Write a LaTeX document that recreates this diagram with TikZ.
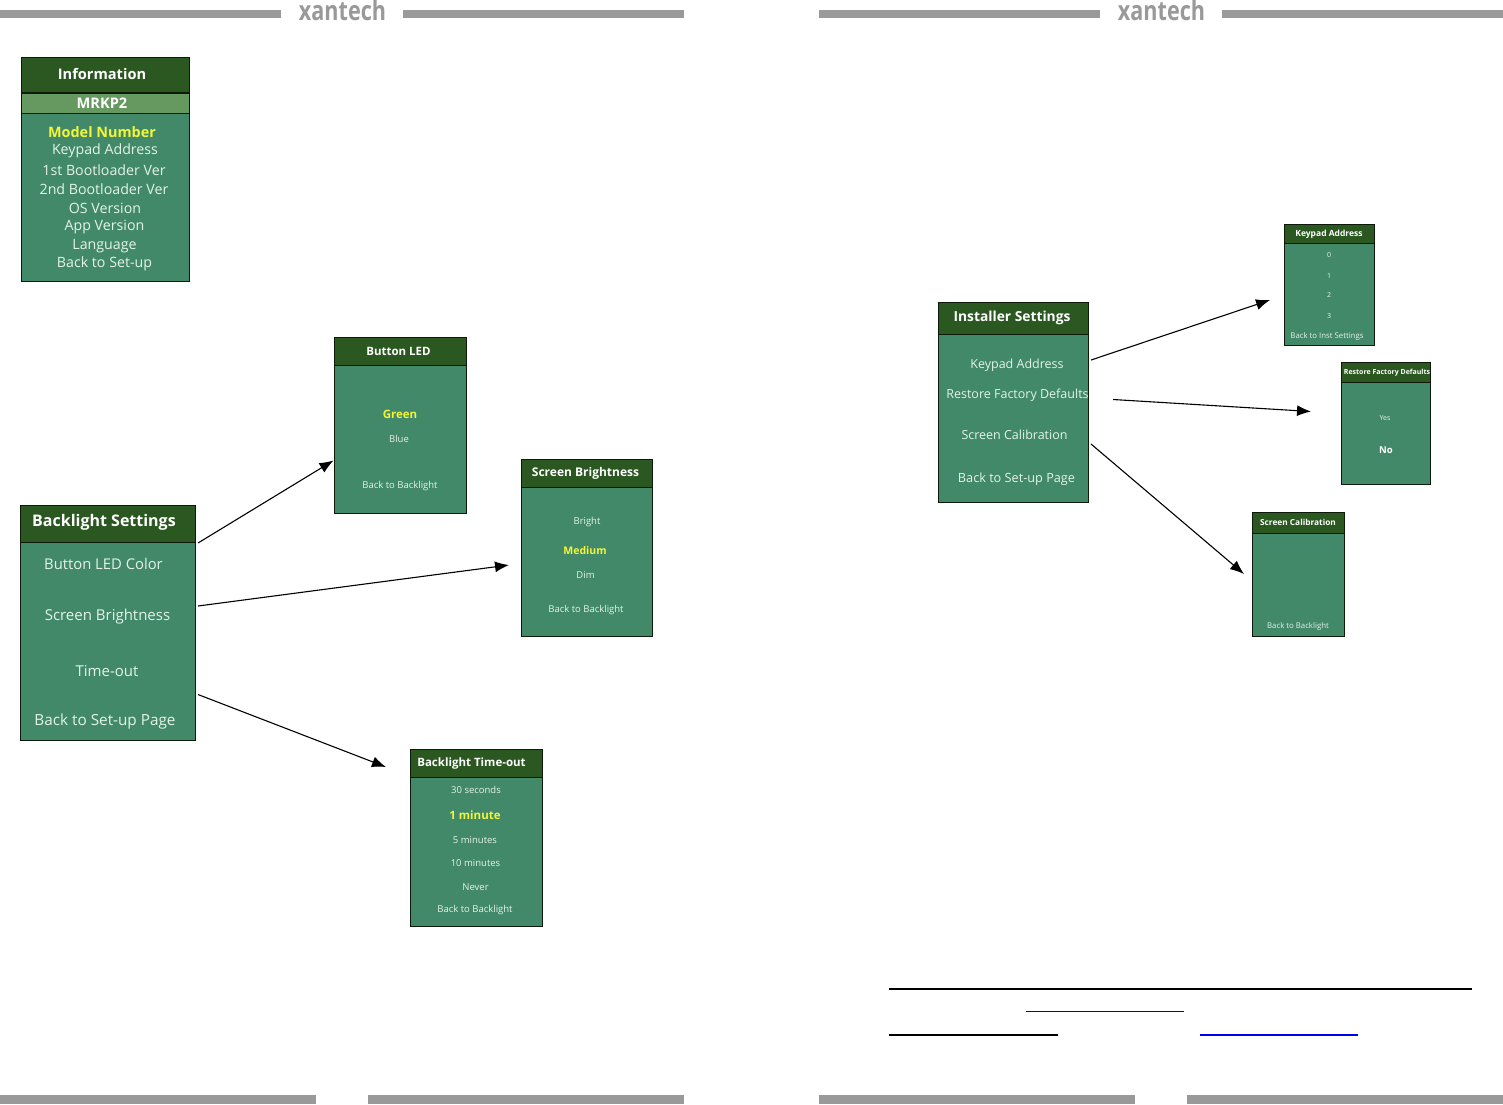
\documentclass[tikz,border=0pt]{standalone}
\usepackage{fontspec}
\setmainfont{Open Sans}
\usetikzlibrary{arrows.meta}
\definecolor{hdr}{HTML}{2B5720}
\definecolor{bdy}{HTML}{42896A}
\definecolor{band}{HTML}{66995F}
\definecolor{txt}{HTML}{E4F3E8}
\definecolor{sel}{HTML}{F2F53A}
\definecolor{bar}{HTML}{999999}
\definecolor{linkb}{HTML}{0000EE}
\newcommand{\panel}[6]{% name, x0,x1,y0,y1(header bottom),y2(bottom)
  \node[bodybox,minimum width=#3pt-#2pt-.6pt,minimum height=#6pt-#4pt-.6pt,anchor=north west] (#1) at (#2,#4) {};
  \node[hdrbox,minimum width=#3pt-#2pt-.6pt,minimum height=#5pt-#4pt,anchor=north west] (#1h) at (#2,#4) {};
}
\tikzset{
  x=1pt,y=-1pt,
  bodybox/.style={draw=black!70!hdr,fill=bdy,line width=.6pt,inner sep=0pt,outer sep=0pt},
  hdrbox/.style={draw=black!70!hdr,fill=hdr,line width=.6pt,inner sep=0pt,outer sep=0pt},
  bandbox/.style={draw=black!70!hdr,fill=band,line width=1pt,inner sep=0pt,outer sep=0pt},
  item/.style={text=txt,inner sep=0pt,yshift=-.8pt,font=\fontsize{#1}{#1}\selectfont},
  item/.default=15,
  pick/.style={text=sel,inner sep=0pt,yshift=-.8pt,font=\fontsize{#1}{#1}\selectfont\bfseries},
  pick/.default=15,
  title/.style={text=white,inner sep=0pt,yshift=-.8pt,font=\fontsize{#1}{#1}\selectfont\bfseries},
  title/.default=15,
  logo/.style={text=bar,inner sep=0pt,font=\fontsize{27}{27}\selectfont\bfseries},
  conn/.style={draw=black,line width=1.1pt,-{Latex[length=14pt,width=11pt]}},
}
\begin{document}
\begin{tikzpicture}
\useasboundingbox (0,0) rectangle (1503,1104);
\fill[white] (0,0) rectangle (1503,1104);
% bars
\foreach \a/\b in {0/281,403/684,819/1100,1222/1503}{\fill[bar] (\a,9.5) rectangle (\b,18);}
\foreach \a/\b in {0/316,368/684,819/1135,1187/1503}{\fill[bar] (\a,1095) rectangle (\b,1104);}
\node[logo,xscale=.8] (logoa) at (342.5,10.5) {xantech};
\node[logo,xscale=.8] (logob) at (1161.5,10.5) {xantech};
% Information
\panel{info}{21}{190}{57}{92}{282}
\node[bandbox,minimum width=168pt,minimum height=20pt,anchor=north west] (infob) at (21,93.5) {};
\node[title=14.6] (it) at (102,73.5) {Information};
\node[title=14.6] (ib) at (102,102.5) {MRKP2};
\node[pick=14.4] (i1) at (102,131.5) {Model Number};
\node[item=14.2] (i2) at (105,150.5) {Keypad Address};
\node[item=14.2] (i3) at (104,169.5) {1st Bootloader Ver};
\node[item=14.2] (i4) at (104,188.5) {2nd Bootloader Ver};
\node[item=14.2] (i5) at (105,207.5) {OS Version};
\node[item=14.2] (i6) at (104.5,226.5) {App Version};
\node[item=14.2] (i7) at (104.5,245) {Language};
\node[item=14.2] (i8) at (104.5,263.5) {Back to Set-up};
% Backlight Settings
\panel{bl}{20}{196}{505}{542}{741}
\node[title=16] (bt) at (104,522) {Backlight Settings};
\node[item=14.8] (b1) at (103.5,563) {Button LED Color};
\node[item=15] (b2) at (107.5,616) {Screen Brightness};
\node[item=15] (b3) at (107,670) {Time-out};
\node[item=15.3] (b4) at (105,720.5) {Back to Set-up Page};
% Button LED
\panel{led}{334}{467}{337}{365}{514}
\node[title=11.5] (lt) at (398.5,351) {Button LED};
\node[pick=11.5] (l1) at (400,414) {Green};
\node[item=9.5] (l2) at (399,438) {Blue};
\node[item=9.5] (l3) at (400,485) {Back to Backlight};
% Screen Brightness
\panel{sb}{521}{653}{459}{487}{637}
\node[title=12] (st) at (585.5,473) {Screen Brightness};
\node[item=9.5] (s1) at (587,521) {Bright};
\node[pick=10.5] (s2) at (585,549.5) {Medium};
\node[item=9.5] (s3) at (585.5,574) {Dim};
\node[item=9.5] (s4) at (586,609.5) {Back to Backlight};
% Backlight Time-out
\panel{to}{410}{543}{749}{777}{927}
\node[title=11.5] (tt) at (471.5,763) {Backlight Time-out};
\node[item=9.5] (t1) at (476,789.5) {30 seconds};
\node[pick=11.5] (t2) at (475,814.5) {1 minute};
\node[item=9.5] (t3) at (475,839) {5 minutes};
\node[item=9.5] (t4) at (475.5,862.5) {10 minutes};
\node[item=9.5] (t5) at (475.5,886) {Never};
\node[item=9.5] (t6) at (475,909.5) {Back to Backlight};
% Installer Settings
\panel{ins}{938}{1089}{302}{334}{503}
\node[title=13.8] (nt) at (1012,317.5) {Installer Settings};
\node[item=12.5] (n1) at (1017,364) {Keypad Address};
\node[item=12.5] (n2) at (1017.5,394) {Restore Factory Defaults};
\node[item=12.5] (n3) at (1014.5,434) {Screen Calibration};
\node[item=12.7] (n4) at (1016.5,478) {Back to Set-up Page};
% Keypad Address
\panel{ka}{1284}{1375}{224}{243}{346}
\node[title=8.5] (kt) at (1329,233.5) {Keypad Address};
\node[item=7] (k0) at (1329,254) {0};
\node[item=7] (k1) at (1329,275) {1};
\node[item=7] (k2) at (1329,294.5) {2};
\node[item=7] (k3) at (1329,315) {3};
\node[item=7.8] (k4) at (1327,336) {Back to Inst Settings};
% Restore
\panel{rf}{1341}{1431}{362}{382}{485}
\node[title=7] (rt) at (1387,372) {Restore Factory Defaults};
\node[item=7] (r1) at (1385,417.5) {Yes};
\node[title=9.5] (r2) at (1386,449) {No};
% Screen Calibration
\panel{sc}{1252}{1345}{512}{533}{637}
\node[title=8.3] (ct) at (1298,521.5) {Screen Calibration};
\node[item=7.8] (c1) at (1298,626) {Back to Backlight};
% connector ends
\coordinate (a1) at (198,543); \coordinate (a1e) at (333.5,460.5);
\coordinate (a2) at (198,606); \coordinate (a2e) at (509,565);
\coordinate (a3) at (198,694.5); \coordinate (a3e) at (386,767);
\coordinate (a4) at (1091,360); \coordinate (a4e) at (1270,300);
\coordinate (a5) at (1113,399.5); \coordinate (a5e) at (1311,411.5);
\coordinate (a6) at (1091,444); \coordinate (a6e) at (1244,574);
\draw[conn] (a1) -- (a1e);
\draw[conn] (a2) -- (a2e);
\draw[conn] (a3) -- (a3e);
\draw[conn] (a4) -- (a4e);
\draw[conn] (a5) -- (a5e);
\draw[conn] (a6) -- (a6e);
% footer rules
\fill[black] (889,988) rectangle (1472,990);
\fill[linkb!80!black] (1026,1010.5) rectangle (1184,1011.5);
\fill[black] (889,1034) rectangle (1058,1036);
\fill[linkb] (1200,1034) rectangle (1358,1036);
\end{tikzpicture}
\end{document}
